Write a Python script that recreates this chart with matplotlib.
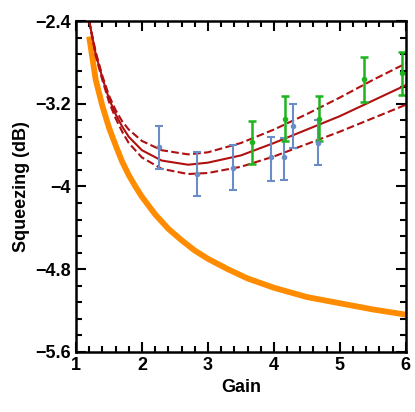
import matplotlib
matplotlib.use("Agg")
import matplotlib.pyplot as plt
from matplotlib.ticker import MultipleLocator

plt.rcParams['font.family'] = ['Liberation Sans', 'DejaVu Sans']
plt.rcParams['font.weight'] = 'bold'

# theory curves
curve_x = [1.2, 1.3, 1.4, 1.5, 1.6, 1.7, 1.8, 2.0, 2.3, 2.7, 3.0, 3.5, 4.0, 4.5, 5.0, 5.5, 6.0]
fit_mid = [-2.40, -2.72, -2.95, -3.15, -3.30, -3.42, -3.52, -3.65, -3.75, -3.79, -3.77, -3.70, -3.58, -3.45, -3.32, -3.17, -3.02]
fit_up = [-2.40, -2.70, -2.93, -3.12, -3.26, -3.37, -3.45, -3.56, -3.65, -3.69, -3.67, -3.58, -3.45, -3.30, -3.14, -2.97, -2.81]
fit_lo = [-2.40, -2.74, -2.97, -3.18, -3.34, -3.47, -3.58, -3.72, -3.83, -3.88, -3.87, -3.81, -3.71, -3.59, -3.47, -3.34, -3.21]

orange_x = [1.2, 1.3, 1.4, 1.5, 1.6, 1.7, 1.8, 1.9, 2.0, 2.2, 2.4, 2.6, 2.8, 3.0, 3.3, 3.6, 4.0, 4.5, 5.0, 5.5, 6.0]
orange_y = [-2.55, -2.97, -3.22, -3.43, -3.60, -3.76, -3.89, -4.00, -4.10, -4.27, -4.41, -4.52, -4.62, -4.70,
            -4.80, -4.89, -4.98, -5.07, -5.13, -5.19, -5.24]

# measured points
blue_x = [2.26, 2.83, 3.38, 3.95, 4.15, 4.29, 4.67]
blue_y = [-3.62, -3.88, -3.82, -3.72, -3.72, -3.42, -3.58]
blue_top = [-3.42, -3.67, -3.60, -3.52, -3.53, -3.20, -3.36]
blue_bot = [-3.83, -4.09, -4.03, -3.95, -3.94, -3.63, -3.79]

green_x = [3.67, 4.17, 4.68, 5.36, 5.94]
green_y = [-3.57, -3.35, -3.35, -2.96, -2.90]
green_top = [-3.37, -3.13, -3.13, -2.75, -2.70]
green_bot = [-3.78, -3.56, -3.56, -3.18, -3.12]

fig = plt.figure(figsize=(4.15, 4.12), dpi=100)
ax = fig.add_axes([0.183, 0.146, 0.795, 0.803])

ax.plot(orange_x, orange_y, color='#FF8C00', lw=4.2, solid_capstyle='butt', solid_joinstyle='round')
ax.plot(curve_x, fit_up, '--', color='#B01010', lw=1.5)
ax.plot(curve_x, fit_lo, '--', color='#B01010', lw=1.5)
ax.plot(curve_x, fit_mid, '-', color='#B01010', lw=1.5)

ax.errorbar(blue_x, blue_y,
            yerr=[[c - b for c, b in zip(blue_y, blue_bot)], [t - c for c, t in zip(blue_y, blue_top)]],
            fmt='o', ms=3, color='#6A8DC8', ecolor='#6A8DC8', elinewidth=1.5, capsize=3, capthick=1.5)
ax.errorbar(green_x, green_y,
            yerr=[[c - b for c, b in zip(green_y, green_bot)], [t - c for c, t in zip(green_y, green_top)]],
            fmt='o', ms=3, color='#1DB41D', ecolor='#1DB41D', elinewidth=1.8, capsize=3, capthick=1.8)

ax.set_xlim(1, 6)
ax.set_ylim(-5.6, -2.4)
ax.set_xticks([1, 2, 3, 4, 5, 6])
ax.set_yticks([-5.6, -4.8, -4.0, -3.2, -2.4])
ax.set_yticklabels(['\u22125.6', '\u22124.8', '\u22124', '\u22123.2', '\u22122.4'])
ax.xaxis.set_minor_locator(MultipleLocator(0.2))
ax.yaxis.set_minor_locator(MultipleLocator(0.16))
ax.tick_params(which='both', direction='in', top=True, right=True, width=1.5, labelsize=13)
ax.tick_params(which='major', length=7)
ax.tick_params(which='minor', length=4)
for s in ax.spines.values():
    s.set_linewidth(1.8)

ax.set_xlabel('Gain', fontsize=13, fontweight='bold')
ax.set_ylabel('Squeezing (dB)', fontsize=13, fontweight='bold')

fig.savefig('out.png', dpi=100)
